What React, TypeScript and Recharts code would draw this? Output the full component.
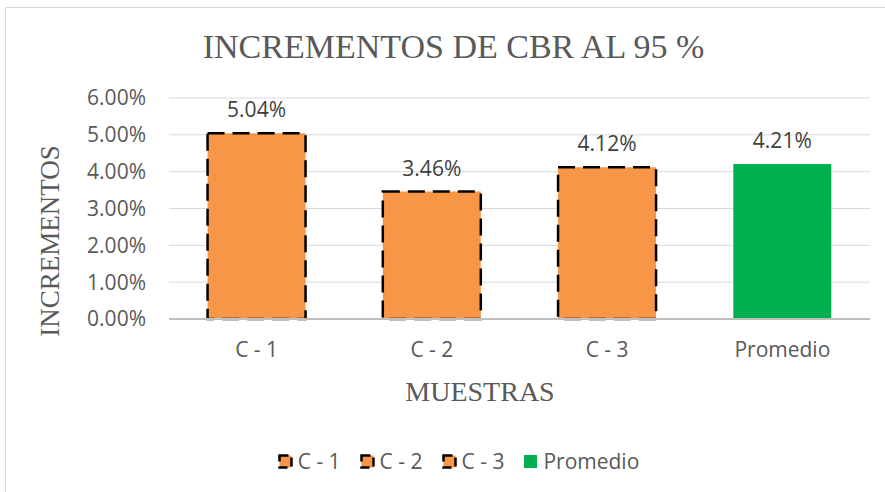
import { BarChart, Bar, Cell, XAxis, YAxis, CartesianGrid, LabelList } from "recharts";

const categories = ["C - 1", "C - 2", "C - 3", "Promedio"];
const increments = [0.0504, 0.0346, 0.0412, 0.0421];
const yTicks = [0, 0.01, 0.02, 0.03, 0.04, 0.05, 0.06];

const ORANGE = "#F79646";
const GREEN = "#00B050";
const TEXT = "#595959";
const SANS = "'Open Sans', 'Noto Sans', sans-serif";
const SERIF = "'Liberation Serif', 'DejaVu Serif', serif";

const data = categories.map((name, i) => ({
  name,
  value: increments[i],
  isAvg: name === "Promedio",
}));

const pct = (v: number) => `${(v * 100).toFixed(2)}%`;

function LegendIcon({ avg }: { avg: boolean }) {
  return (
    <svg width={15} height={15} style={{ marginRight: 5 }}>
      {avg ? (
        <rect x={1} y={1} width={13} height={13} fill={GREEN} />
      ) : (
        <rect x={1.5} y={1.5} width={12} height={12} fill={ORANGE} stroke="#000" strokeWidth={2.5} strokeDasharray="9 5" />
      )}
    </svg>
  );
}

export default function App() {
  return (
    <div
      style={{
        position: "absolute",
        left: 5,
        top: 7,
        width: 882,
        height: 490,
        border: "1px solid #d9d9d9",
        background: "#fff",
      }}
    >
      <div
        style={{
          position: "absolute",
          top: 20,
          left: 0,
          width: 895,
          textAlign: "center",
          fontFamily: SERIF,
          fontSize: 34,
          color: TEXT,
          whiteSpace: "nowrap",
        }}
      >
        INCREMENTOS DE CBR AL 95 %
      </div>
      <div
        style={{
          position: "absolute",
          left: 44,
          top: 233,
          transform: "translate(-50%, -50%) rotate(-90deg)",
          fontFamily: SERIF,
          fontSize: 27,
          color: TEXT,
          whiteSpace: "nowrap",
        }}
      >
        INCREMENTOS
      </div>
      <div
        style={{
          position: "absolute",
          left: 474,
          top: 384,
          transform: "translate(-50%, -50%)",
          fontFamily: SERIF,
          fontSize: 28,
          color: TEXT,
          whiteSpace: "nowrap",
        }}
      >
        MUESTRAS
      </div>
      <BarChart
        width={880}
        height={485}
        data={data}
        margin={{ top: 90, right: 16, bottom: 134, left: 0 }}
        barCategoryGap="22%"
      >
        <CartesianGrid vertical={false} stroke="#d9d9d9" />
        <XAxis
          dataKey="name"
          height={40}
          axisLine={{ stroke: "#bfbfbf", strokeWidth: 2 }}
          tickLine={false}
          tickMargin={17}
          tick={{ fontFamily: SANS, fontSize: 21, fill: TEXT }}
        />
        <YAxis
          width={163}
          domain={[0, 0.06]}
          ticks={yTicks}
          tickFormatter={pct}
          axisLine={false}
          tickLine={false}
          tickMargin={17}
          tick={{ fontFamily: SANS, fontSize: 21, fill: TEXT }}
        />
        <Bar dataKey="value" isAnimationActive={false}>
          {data.map((d, i) => (
            <Cell
              key={i}
              fill={d.isAvg ? GREEN : ORANGE}
              stroke={d.isAvg ? "none" : "#000"}
              strokeWidth={2.5}
              strokeDasharray="17 8"
            />
          ))}
          <LabelList
            dataKey="value"
            position="top"
            offset={16}
            formatter={(v: number) => pct(v)}
            style={{ fontFamily: SANS, fontSize: 21, fill: "#404040" }}
          />
        </Bar>
      </BarChart>
      <div
        style={{
          position: "absolute",
          top: 439,
          left: 0,
          width: 905,
          display: "flex",
          justifyContent: "center",
          fontFamily: SANS,
          fontSize: 21,
          color: TEXT,
        }}
      >
        {categories.map((c, i) => (
          <div
            key={c}
            style={{ display: "flex", alignItems: "center", marginLeft: i === 0 ? 0 : 19 }}
          >
            <LegendIcon avg={c === "Promedio"} />
            <span>{c}</span>
          </div>
        ))}
      </div>
    </div>
  );
}
